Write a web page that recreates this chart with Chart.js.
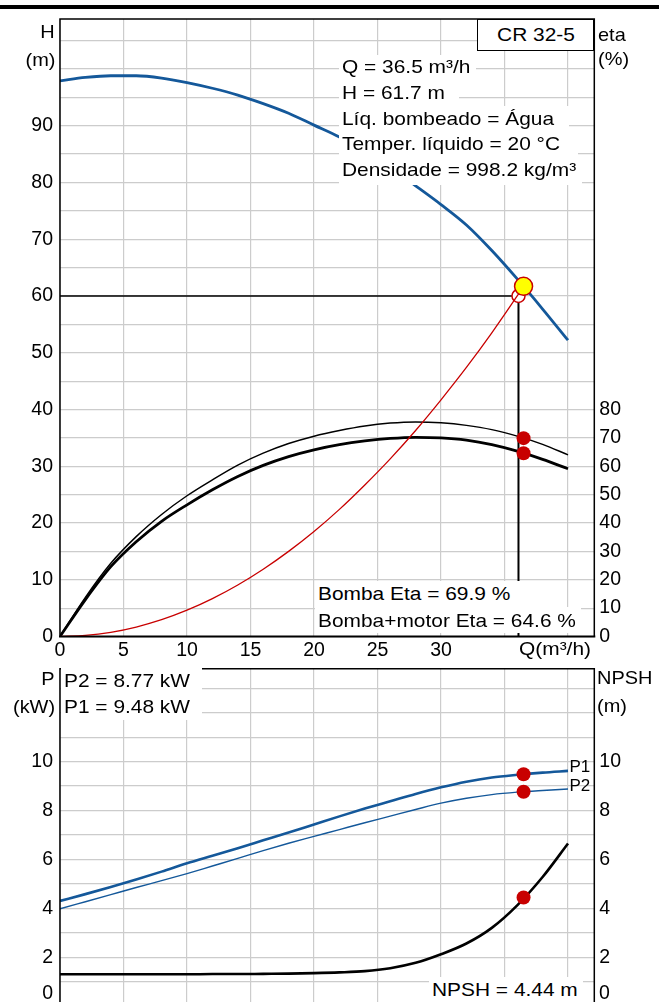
<!DOCTYPE html>
<html><head><meta charset="utf-8">
<script src="https://cdn.jsdelivr.net/npm/chart.js@4.4.0/dist/chart.umd.min.js"></script>
<style>
html,body{margin:0;padding:0;background:#fff;}
body{width:659px;height:1002px;overflow:hidden;position:relative;font-family:"Liberation Sans",Arial,sans-serif;}
canvas{position:absolute;left:0;}
.t{position:absolute;white-space:nowrap;color:#000;}
.bg{position:absolute;background:#fff;}
#bar{position:absolute;left:0;top:5px;width:659px;height:4px;background:#000;}
</style></head><body>
<div id="bar"></div>
<canvas id="c1" width="659" height="665" style="top:0;width:659px;height:665px"></canvas>
<canvas id="c2" width="659" height="380" style="top:650px;width:659px;height:380px"></canvas>
<script>
// ---- data ----
const flowQ   = [0,2,4,6,8,10,12,14,16,18,20,22,24,26,28,30,32,34,36,38,40];
const headH   = [97.9,98.5,98.8,98.8,98.4,97.6,96.6,95.4,93.9,92.2,90.1,88.0,85.3,82.6,79.4,76.1,72.5,68.0,63.0,57.7,52.2];
const etaPump = [0,13.8,25.8,35.2,43.0,49.6,55.2,60.4,64.6,68.0,70.6,72.6,74.2,75.2,75.6,75.3,74.4,72.9,70.6,67.7,64.0];
const etaTotal= [0,13.0,24.6,33.4,40.6,46.4,51.7,56.4,60.3,63.4,65.8,67.6,68.9,69.8,70.2,70.0,69.2,67.6,65.3,62.4,59.1];
const sysQ    = [0,2,4,6,8,10,12,14,16,18,20,22,24,26,28,30,32,34,36,36.5];
const sysH    = [0,0.19,0.74,1.67,2.96,4.63,6.67,9.07,11.85,15.0,18.5,22.4,26.7,31.3,36.3,41.7,47.4,53.5,60.0,61.7];
const powerP1 = [4.30,4.58,4.87,5.18,5.50,5.84,6.15,6.46,6.78,7.10,7.43,7.76,8.08,8.38,8.68,8.95,9.18,9.35,9.46,9.55,9.62];
const powerP2 = [3.98,4.27,4.56,4.85,5.13,5.42,5.73,6.04,6.36,6.66,6.94,7.22,7.50,7.77,8.04,8.30,8.50,8.65,8.75,8.82,8.88];
const npshR   = [1.30,1.30,1.30,1.30,1.30,1.30,1.31,1.31,1.32,1.33,1.35,1.38,1.43,1.55,1.77,2.12,2.56,3.20,4.12,5.28,6.65];
const dutyQ = 36.5, dutyH = 61.7;
const reqQ = 36.1, reqH = 60;
const dutyEta = [69.9, 64.6];
const dutyP = [9.48, 8.77];
const dutyNpsh = 4.44;
const xTickLabels = [0,5,10,15,20,25,30];
const hTickLabels = [0,10,20,30,40,50,60,70,80,90];
const etaTickLabels = [0,10,20,30,40,50,60,70,80];
const pTickLabels = [2,4,6,8,10];
const npshTickLabels = [2,4,6,8,10];

const FONT = "'Liberation Sans', Arial, sans-serif";
Chart.defaults.font.family = FONT;
Chart.defaults.font.size = 19.5;
Chart.defaults.color = '#000';

const BLUE = '#14589a', RED = '#c80000', GRID = '#cccccc';
const pts = (xs, ys) => xs.map((x,i)=>({x, y: ys[i]}));

const framePlugin = {
  id: 'frame',
  afterDatasetsDraw(chart, args, opts) {
    const {ctx, chartArea: a} = chart;
    ctx.save();
    ctx.strokeStyle = '#000';
    ctx.lineWidth = 1.5;
    ctx.beginPath();
    ctx.moveTo(a.left, a.bottom); ctx.lineTo(a.left, a.top); ctx.lineTo(a.right, a.top); ctx.lineTo(a.right, a.bottom);
    ctx.stroke();
    ctx.lineWidth = opts.bottomWidth || 2;
    ctx.beginPath(); ctx.moveTo(a.left - 1, a.bottom); ctx.lineTo(a.right + 1, a.bottom); ctx.stroke();
    ctx.restore();
  }
};

function curve(data, color, width, axis, order) {
  return {data, borderColor: color, borderWidth: width, yAxisID: axis, pointRadius: 0,
          cubicInterpolationMode: 'monotone', fill: false, order};
}
function dots(data, axis, order, o = {}) {
  return {data, showLine: false, yAxisID: axis, order,
          pointRadius: o.r || 7, pointBackgroundColor: o.bg || RED,
          pointBorderColor: o.bc || RED, pointBorderWidth: o.bw || 0, pointHoverRadius: o.r || 7};
}

// ---------- top chart : H / eta ----------
new Chart(document.getElementById('c1'), {
  type: 'line',
  data: { datasets: [
    dots([{x: dutyQ, y: dutyH}], 'yH', 0, {r: 9, bg: '#ffff00', bc: RED, bw: 1.5}),
    dots(pts([dutyQ, dutyQ], dutyEta), 'yE', 1),
    curve(pts(sysQ, sysH), RED, 1.3, 'yH', 2),
    dots([{x: reqQ, y: reqH}], 'yH', 3, {r: 6.5, bg: '#ffffff', bc: RED, bw: 1.5}),
    curve(pts(flowQ, headH), BLUE, 2.8, 'yH', 4),
    {data: [{x: 0, y: reqH}, {x: reqQ, y: reqH}], borderColor: '#000', borderWidth: 1.5, yAxisID: 'yH', pointRadius: 0, order: 5},
    {data: [{x: reqQ, y: 0}, {x: reqQ, y: reqH}], borderColor: '#000', borderWidth: 2, yAxisID: 'yH', pointRadius: 0, order: 5},
    curve(pts(flowQ, etaPump), '#000', 1.5, 'yE', 6),
    curve(pts(flowQ, etaTotal), '#000', 2.8, 'yE', 6),
  ]},
  options: {
    responsive: false, animation: false,
    layout: {padding: {top: 19, left: 0, right: 0, bottom: 0}},
    plugins: {legend: {display: false}, tooltip: {enabled: false}, frame: {bottomWidth: 2}},
    events: [],
    scales: {
      x: {type: 'linear', position: 'bottom', min: 0, max: 42.07,
          ticks: {stepSize: 5, includeBounds: false, autoSkip: false, maxRotation: 0, padding: 2,
                  callback: v => xTickLabels.includes(v) ? String(v) : ''},
          grid: {color: GRID, lineWidth: 1.2, drawTicks: false}, border: {display: false},
          afterFit: s => { s.height = 28.5; }},
      yH: {type: 'linear', position: 'left', min: 0, max: 108.8,
          ticks: {stepSize: 5, includeBounds: false, autoSkip: false, padding: 7,
                  callback: v => hTickLabels.includes(v) ? String(v) : ''},
          grid: {color: GRID, lineWidth: 1.2, drawTicks: false}, border: {display: false},
          afterFit: s => { s.width = 60; }},
      yE: {type: 'linear', position: 'right', min: 0, max: 217.6,
          ticks: {stepSize: 10, includeBounds: false, autoSkip: false, padding: 5,
                  callback: v => etaTickLabels.includes(v) ? String(v) : ''},
          grid: {display: false, drawTicks: false}, border: {display: false},
          afterFit: s => { s.width = 64.7; }}
    }
  },
  plugins: [framePlugin]
});

// ---------- bottom chart : P / NPSH ----------
new Chart(document.getElementById('c2'), {
  type: 'line',
  data: { datasets: [
    dots(pts([dutyQ, dutyQ], dutyP), 'yP', 0),
    dots([{x: dutyQ, y: dutyNpsh}], 'yN', 0),
    curve(pts(flowQ, powerP1), BLUE, 2.6, 'yP', 2),
    curve(pts(flowQ, powerP2), BLUE, 1.4, 'yP', 2),
    curve(pts(flowQ, npshR), '#000', 2.6, 'yN', 2),
  ]},
  options: {
    responsive: false, animation: false,
    layout: {padding: {top: 15, left: 0, right: 0, bottom: 0}},
    plugins: {legend: {display: false}, tooltip: {enabled: false}, frame: {bottomWidth: 2}},
    events: [],
    scales: {
      x: {type: 'linear', position: 'bottom', min: 0, max: 42.07,
          ticks: {display: false, stepSize: 5, includeBounds: false},
          grid: {color: GRID, lineWidth: 1.2, drawTicks: false}, border: {display: false},
          afterFit: s => { s.height = 23.9; }},
      yP: {type: 'linear', position: 'left', min: 0, max: 13.8,
          ticks: {stepSize: 1, includeBounds: false, autoSkip: false, padding: 7,
                  callback: v => pTickLabels.includes(v) ? String(v) : ''},
          grid: {color: GRID, lineWidth: 1.2, drawTicks: false}, border: {display: false},
          afterFit: s => { s.width = 60; }},
      yN: {type: 'linear', position: 'right', min: 0, max: 13.8,
          ticks: {stepSize: 1, includeBounds: false, autoSkip: false, padding: 5,
                  callback: v => npshTickLabels.includes(v) ? String(v) : ''},
          grid: {display: false, drawTicks: false}, border: {display: false},
          afterFit: s => { s.width = 64.7; }}
    }
  },
  plugins: [framePlugin]
});

// ---------- text overlays ----------
function bg(x, y, w, h, border) {
  const d = document.createElement('div');
  d.className = 'bg';
  Object.assign(d.style, {left: x + 'px', top: y + 'px', width: w + 'px', height: h + 'px'});
  if (border) { d.style.border = '1px solid #000'; d.style.boxSizing = 'border-box'; }
  document.body.appendChild(d);
}
function txt(s, x, yc, o = {}) {
  const size = o.size || 19, sx = o.sx === undefined ? 1.1 : o.sx;
  const d = document.createElement('div');
  d.className = 't';
  d.textContent = s;
  d.style.fontSize = size + 'px';
  d.style.lineHeight = (size * 1.16) + 'px';
  d.style.top = (yc - size * 0.5685) + 'px';
  if (o.align === 'right') {
    d.style.right = (659 - x) + 'px'; d.style.transformOrigin = '100% 50%';
    d.style.transform = `scaleX(${sx})`;
  } else if (o.align === 'center') {
    d.style.left = x + 'px'; d.style.transformOrigin = '50% 50%';
    d.style.transform = `translateX(-50%) scaleX(${sx})`;
  } else {
    d.style.left = x + 'px'; d.style.transformOrigin = '0 50%';
    d.style.transform = `scaleX(${sx})`;
  }
  document.body.appendChild(d);
}

// top panel
bg(476.7, 19, 117.6, 32, true);
txt('CR 32-5', 535.8, 35, {align: 'center'});
txt('H', 55, 32, {align: 'right', sx: 1.05});
txt('(m)', 55, 60, {align: 'right', sx: 1.05});
txt('eta', 598, 35, {sx: 1.05});
txt('(%)', 598, 58.5, {sx: 1.05});

bg(339, 55, 137, 25); bg(339, 80, 120, 26); bg(339, 106, 230, 25.5); bg(339, 131.5, 239, 25.5); bg(339, 157, 243, 28);
txt('Q = 36.5 m³/h', 342, 67);
txt('H = 61.7 m', 342, 93);
txt('Líq. bombeado = Água', 342, 118.5);
txt('Temper. líquido = 20 °C', 342, 144);
txt('Densidade = 998.2 kg/m³', 342, 170);

bg(315, 581, 206, 26); bg(315, 607, 266, 26);
txt('Bomba Eta = 69.9 %', 318, 594);
txt('Bomba+motor Eta = 64.6 %', 318, 620.5);
txt('Q(m³/h)', 519, 649);

// bottom panel
txt('P', 55, 679, {align: 'right', sx: 1.05});
txt('(kW)', 55, 707, {align: 'right', sx: 1.05});
txt('NPSH', 597, 678, {sx: 1.05});
txt('(m)', 597, 706, {sx: 1.05});
bg(61, 668, 141, 26); bg(61, 694, 141, 26);
txt('P2 = 8.77 kW', 64, 681);
txt('P1 = 9.48 kW', 64, 707);
txt('P1', 569.5, 767, {size: 17, sx: 1});
txt('P2', 569.5, 786, {size: 17, sx: 1});
bg(429, 977, 154, 25);
txt('NPSH = 4.44 m', 431.7, 990);
txt('0', 53, 992, {size: 19.5, sx: 1, align: 'right'});
txt('0', 599, 992, {size: 19.5, sx: 1});
</script>
</body></html>
